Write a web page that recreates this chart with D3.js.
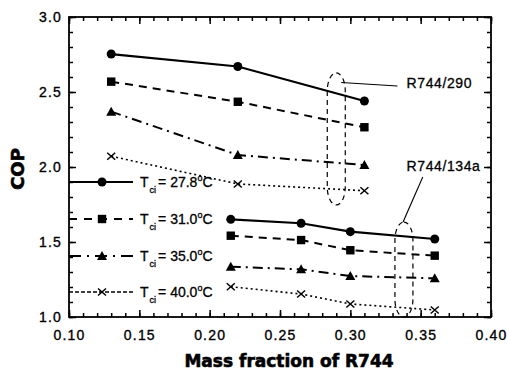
<!DOCTYPE html>
<html><head><meta charset="utf-8">
<script src="https://cdn.jsdelivr.net/npm/d3@7"></script>
<style>
html,body{margin:0;padding:0;background:#fff;}
svg{display:block;}
</style></head>
<body>
<svg id="chart" width="507" height="371"></svg>
<script>
// ---- data ----
const xTicks = [0.10, 0.15, 0.20, 0.25, 0.30, 0.35, 0.40];
const yTicks = [1.0, 1.5, 2.0, 2.5, 3.0];
const seriesNames = ["27.8", "31.0", "35.0", "40.0"];
// R744/290 mixture
const x290 = [0.130, 0.220, 0.310];
const cop290_278 = [2.753, 2.670, 2.440];
const cop290_310 = [2.569, 2.435, 2.265];
const cop290_350 = [2.369, 2.080, 2.013];
const cop290_400 = [2.072, 1.887, 1.842];
// R744/134a mixture
const x134 = [0.215, 0.265, 0.300, 0.360];
const cop134_278 = [1.651, 1.625, 1.569, 1.520];
const cop134_310 = [1.542, 1.513, 1.445, 1.409];
const cop134_350 = [1.335, 1.318, 1.273, 1.258];
const cop134_400 = [1.202, 1.153, 1.087, 1.047];
const xLabel = "Mass fraction of R744";
const yLabel = "COP";
const groupLabels = ["R744/290", "R744/134a"];

// ---- layout ----
const svg = d3.select("#chart");
const L = 69, R = 491, T = 17, B = 317;
const x = d3.scaleLinear().domain([0.10, 0.40]).range([L, R]);
const y = d3.scaleLinear().domain([1.0, 3.0]).range([B, T]);

const styles = [
  {dash: null, w: 2.2, marker: "circle"},
  {dash: "8,6", w: 2, marker: "square"},
  {dash: "10,5,2,5", w: 2, marker: "triangle"},
  {dash: "2,3", w: 1.6, marker: "cross"}
];
const legendDash = [null, "8,7", "12,6,2,6", "4,2"];

function marker(g, type, cx, cy) {
  if (type === "circle") g.append("circle").attr("cx", cx).attr("cy", cy).attr("r", 4.5).attr("fill", "#000");
  else if (type === "square") g.append("rect").attr("x", cx - 4.2).attr("y", cy - 4.2).attr("width", 8.4).attr("height", 8.4).attr("fill", "#000");
  else if (type === "triangle") g.append("path").attr("d", `M${cx},${cy - 5}L${cx + 5},${cy + 4}L${cx - 5},${cy + 4}Z`).attr("fill", "#000");
  else g.append("path").attr("d", `M${cx - 4},${cy - 3.5}L${cx + 4},${cy + 3.5}M${cx - 4},${cy + 3.5}L${cx + 4},${cy - 3.5}`).attr("stroke", "#000").attr("stroke-width", 1.5).attr("fill", "none");
}

const line = d3.line().x(d => x(d[0])).y(d => y(d[1]));
const groups = [
  [x290, [cop290_278, cop290_310, cop290_350, cop290_400]],
  [x134, [cop134_278, cop134_310, cop134_350, cop134_400]]
];
const plot = svg.append("g");
groups.forEach(([xs, sets]) => {
  sets.forEach((vals, i) => {
    const pts = xs.map((xv, j) => [xv, vals[j]]);
    const st = styles[i];
    plot.append("path").attr("d", line(pts)).attr("fill", "none").attr("stroke", "#000")
      .attr("stroke-width", st.w).attr("stroke-dasharray", st.dash);
    pts.forEach(p => marker(plot, st.marker, x(p[0]), y(p[1])));
  });
});

// ---- annotations (dashed loops + leaders) ----
const ann = svg.append("g").attr("fill", "none").attr("stroke", "#000").attr("stroke-width", 1.2).attr("stroke-dasharray", "5,4");
const loops = [[0.2836, 0.2964, 2.627, 1.747], [0.3317, 0.3445, 1.633, 1.0]];
loops.forEach(([x0, x1, y0, y1]) => {
  ann.append("rect").attr("x", x(x0)).attr("y", y(y0)).attr("width", x(x1) - x(x0)).attr("height", y(y1) - y(y0))
    .attr("rx", (x(x1) - x(x0)) / 2).attr("ry", 18);
});
const lead = svg.append("g").attr("stroke", "#000").attr("stroke-width", 1.1);
lead.append("line").attr("x1", x(0.2935)).attr("y1", y(2.563)).attr("x2", x(0.3335)).attr("y2", y(2.54));
lead.append("line").attr("x1", x(0.3515)).attr("y1", y(1.933)).attr("x2", x(0.3375)).attr("y2", y(1.633));
const annFont = {"font-family": "Liberation Sans, Arial, sans-serif", "font-size": 14, "letter-spacing": 0.6, "stroke": "#000", "stroke-width": 0.3};
[[groupLabels[0], 2.56], [groupLabels[1], 2.007]].forEach(([lab, yy]) => {
  const t = svg.append("text").attr("x", x(0.340)).attr("y", y(yy)).attr("dy", "0.35em").text(lab);
  Object.entries(annFont).forEach(([k, v]) => t.attr(k, v));
});

// ---- legend ----
const legY = [182, 219, 256, 292];
const leg = svg.append("g");
seriesNames.forEach((name, i) => {
  leg.append("line").attr("x1", L).attr("x2", 133).attr("y1", legY[i]).attr("y2", legY[i])
    .attr("stroke", "#000").attr("stroke-width", styles[i].w).attr("stroke-dasharray", legendDash[i]);
  marker(leg, styles[i].marker, 102, legY[i]);
  const t = leg.append("text").attr("x", 140).attr("y", legY[i] + 5)
    .attr("font-family", "Liberation Sans, Arial, sans-serif").attr("font-size", 14)
    .attr("stroke", "#000").attr("stroke-width", 0.3);
  t.append("tspan").text("T");
  t.append("tspan").attr("font-size", 9).attr("dy", 6).attr("dx", 1).text("ci");
  t.append("tspan").attr("dy", -6).attr("dx", 2).text("= " + name);
  t.append("tspan").attr("font-size", 9).attr("dy", -6).text("o");
  t.append("tspan").attr("dy", 6).text("C");
});

// ---- axes ----
const xMinor = d3.range(10, 41).map(v => v / 100);
const yMinor = d3.range(10, 31).map(v => v / 10);
function drawAxis(gen, transform) {
  const g = svg.append("g").attr("transform", transform).call(gen);
  g.select(".domain").remove();
  g.selectAll("line").attr("stroke", "#000").attr("stroke-width", 1.5);
  return g;
}
const fmt = d3.format(".2f"), fmty = d3.format(".1f");
function styleTickText(g) {
  g.selectAll("text").attr("font-family", "Liberation Sans, Arial, sans-serif").attr("font-size", 14)
    .attr("letter-spacing", 1.2).attr("fill", "#000").attr("stroke", "#000").attr("stroke-width", 0.35);
}
// bottom
drawAxis(d3.axisBottom(x).tickValues(xMinor).tickSize(-4).tickFormat(""), `translate(0,${B})`);
const gb = drawAxis(d3.axisBottom(x).tickValues(xTicks).tickSize(-7).tickPadding(13).tickFormat(fmt), `translate(0,${B})`);
styleTickText(gb);
// top
drawAxis(d3.axisTop(x).tickValues(xMinor).tickSize(-4).tickFormat(""), `translate(0,${T})`);
drawAxis(d3.axisTop(x).tickValues(xTicks).tickSize(-7).tickFormat(""), `translate(0,${T})`);
// left
drawAxis(d3.axisLeft(y).tickValues(yMinor).tickSize(-4).tickFormat(""), `translate(${L},0)`);
const gl = drawAxis(d3.axisLeft(y).tickValues(yTicks).tickSize(-7).tickPadding(7).tickFormat(fmty), `translate(${L},0)`);
styleTickText(gl);
// right
drawAxis(d3.axisRight(y).tickValues(yMinor).tickSize(-4).tickFormat(""), `translate(${R},0)`);
drawAxis(d3.axisRight(y).tickValues(yTicks).tickSize(-7).tickFormat(""), `translate(${R},0)`);
// frame
svg.append("rect").attr("x", L).attr("y", T).attr("width", R - L).attr("height", B - T)
  .attr("fill", "none").attr("stroke", "#000").attr("stroke-width", 1.8);

// ---- titles ----
svg.append("text").attr("x", 289).attr("y", 367).attr("text-anchor", "middle")
  .attr("font-family", "DejaVu Sans, sans-serif").attr("font-weight", "bold").attr("font-size", 17)
  .attr("stroke", "#000").attr("stroke-width", 0.6).text(xLabel);
svg.append("text").attr("transform", "translate(24,169) rotate(-90)").attr("text-anchor", "middle")
  .attr("font-family", "DejaVu Sans, sans-serif").attr("font-weight", "bold").attr("font-size", 18)
  .attr("stroke", "#000").attr("stroke-width", 0.6).text(yLabel);
</script>
</body></html>
